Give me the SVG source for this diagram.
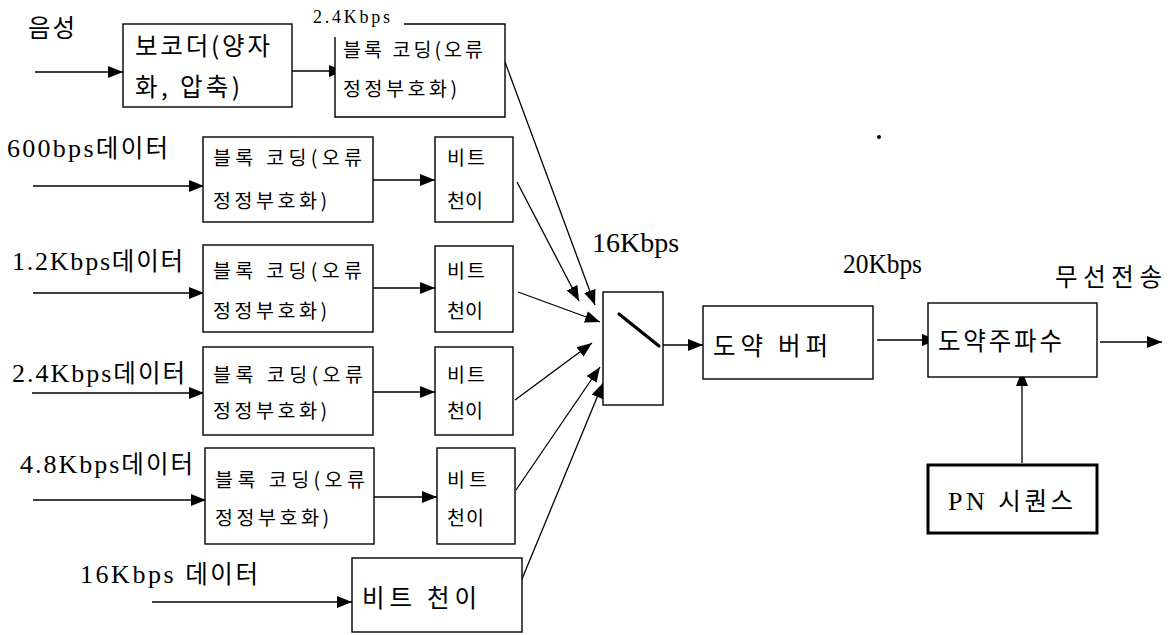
<svg xmlns="http://www.w3.org/2000/svg" width="1171" height="635" viewBox="0 0 1171 635">
  <style>
    .box { fill: #fff; stroke: #000; stroke-width: 1.4; }
    .thick { fill: #fff; stroke: #000; stroke-width: 3; }
    .wire { fill: none; stroke: #000; stroke-width: 1.3; marker-end: url(#ah); }
    text { fill: #000; }
    .lat { font-family: "Liberation Serif", "Times New Roman", serif; }
    .kr { font-family: "Noto Sans CJK KR", "Noto Sans", sans-serif; }
    .md { font-size: 24.5px; }
    .sm { font-size: 19.5px; }
    .tiny { font-size: 18px; }
    .rate { font-size: 28px; }
    .lab { font-size: 26px; }
  </style>
  <defs>
    <marker id="ah" viewBox="0 0 15 12" refX="15" refY="6" markerWidth="15" markerHeight="12" orient="auto" markerUnits="userSpaceOnUse">
      <path d="M0,0 L15,6 L0,12 z" fill="#000"/>
    </marker>
  </defs>

  <rect width="1171" height="635" fill="#fff"/>

  <!-- connectors -->
  <g id="connectors">
    <line class="wire" x1="35" y1="72" x2="123" y2="72"/>
    <line class="wire" x1="292" y1="71" x2="344" y2="71"/>
    <line class="wire" x1="33" y1="186" x2="204" y2="186"/>
    <line class="wire" x1="373" y1="180" x2="435" y2="180"/>
    <line class="wire" x1="33" y1="293" x2="204" y2="293"/>
    <line class="wire" x1="373" y1="288" x2="435" y2="288"/>
    <line class="wire" x1="32" y1="393" x2="204" y2="393"/>
    <line class="wire" x1="373" y1="392" x2="435" y2="392"/>
    <line class="wire" x1="33" y1="500" x2="206" y2="500"/>
    <line class="wire" x1="374" y1="497" x2="437" y2="497"/>
    <line class="wire" x1="152" y1="602" x2="352" y2="602"/>
    <line class="wire" x1="505" y1="62" x2="595" y2="305"/>
    <line class="wire" x1="517" y1="182" x2="579" y2="301"/>
    <line class="wire" x1="518" y1="292" x2="600" y2="322"/>
    <line class="wire" x1="515" y1="400" x2="592" y2="343"/>
    <line class="wire" x1="516" y1="490" x2="600" y2="367"/>
    <line class="wire" x1="522" y1="579" x2="603" y2="383"/>
    <line class="wire" x1="663" y1="345" x2="703" y2="345"/>
    <line class="wire" x1="877" y1="340" x2="937" y2="340"/>
    <line class="wire" x1="1100" y1="342" x2="1162" y2="342"/>
    <line class="wire" x1="1022" y1="463" x2="1022" y2="371"/>
  </g>

  <!-- input labels -->
  <g id="inputs">
    <text class="kr md" x="28" y="37" textLength="47" lengthAdjust="spacing">음성</text>
    <text x="7" y="157" textLength="161" lengthAdjust="spacing"><tspan class="lat lab">600bps</tspan><tspan class="kr md">데이터</tspan></text>
    <text x="12" y="270" textLength="171" lengthAdjust="spacing"><tspan class="lat lab">1.2Kbps</tspan><tspan class="kr md">데이터</tspan></text>
    <text x="12" y="382" textLength="173" lengthAdjust="spacing"><tspan class="lat lab">2.4Kbps</tspan><tspan class="kr md">데이터</tspan></text>
    <text x="20" y="473" textLength="173" lengthAdjust="spacing"><tspan class="lat lab">4.8Kbps</tspan><tspan class="kr md">데이터</tspan></text>
    <text x="80" y="583" textLength="178" lengthAdjust="spacing"><tspan class="lat lab">16Kbps  </tspan><tspan class="kr md">데이터</tspan></text>
  </g>

  <!-- voice path -->
  <g id="vocoder">
    <rect class="box" x="123" y="24" width="169" height="83"/>
    <text class="kr md" x="135" y="55" textLength="135" lengthAdjust="spacing">보코더(양자</text>
    <text class="kr md" x="135" y="96" textLength="105" lengthAdjust="spacing">화, 압축)</text>
  </g>
  <g id="voice-coding">
    <path class="box" d="M404,24 H505 V117 H335 V37"/>
    <text class="lat tiny" x="313" y="23" textLength="77" lengthAdjust="spacing">2.4Kbps</text>
    <text class="kr sm" x="343" y="57" textLength="140" lengthAdjust="spacing">블록  코딩(오류</text>
    <text class="kr sm" x="343" y="96" textLength="114" lengthAdjust="spacing">정정부호화)</text>
  </g>

  <!-- 600bps -->
  <g id="coding-600">
    <rect class="box" x="203" y="137" width="170" height="85"/>
    <text class="kr sm" x="213" y="165" textLength="149" lengthAdjust="spacing">블록  코딩(오류</text>
    <text class="kr sm" x="213" y="208" textLength="114" lengthAdjust="spacing">정정부호화)</text>
  </g>
  <g id="interleave-600">
    <rect class="box" x="435" y="137" width="78" height="85"/>
    <text class="kr sm" x="447" y="165" textLength="38" lengthAdjust="spacing">비트</text>
    <text class="kr sm" x="447" y="208" textLength="36" lengthAdjust="spacing">천이</text>
  </g>

  <!-- 1.2Kbps -->
  <g id="coding-1200">
    <rect class="box" x="203" y="245" width="170" height="87"/>
    <text class="kr sm" x="213" y="278" textLength="149" lengthAdjust="spacing">블록  코딩(오류</text>
    <text class="kr sm" x="213" y="318" textLength="114" lengthAdjust="spacing">정정부호화)</text>
  </g>
  <g id="interleave-1200">
    <rect class="box" x="435" y="246" width="78" height="86"/>
    <text class="kr sm" x="447" y="278" textLength="38" lengthAdjust="spacing">비트</text>
    <text class="kr sm" x="447" y="318" textLength="36" lengthAdjust="spacing">천이</text>
  </g>

  <!-- 2.4Kbps -->
  <g id="coding-2400">
    <rect class="box" x="203" y="347" width="170" height="88"/>
    <text class="kr sm" x="213" y="382" textLength="150" lengthAdjust="spacing">블록  코딩(오류</text>
    <text class="kr sm" x="213" y="418" textLength="114" lengthAdjust="spacing">정정부호화)</text>
  </g>
  <g id="interleave-2400">
    <rect class="box" x="435" y="347" width="78" height="88"/>
    <text class="kr sm" x="447" y="382" textLength="38" lengthAdjust="spacing">비트</text>
    <text class="kr sm" x="447" y="418" textLength="36" lengthAdjust="spacing">천이</text>
  </g>

  <!-- 4.8Kbps -->
  <g id="coding-4800">
    <rect class="box" x="205" y="448" width="169" height="96"/>
    <text class="kr sm" x="215" y="487" textLength="150" lengthAdjust="spacing">블록  코딩(오류</text>
    <text class="kr sm" x="215" y="525" textLength="114" lengthAdjust="spacing">정정부호화)</text>
  </g>
  <g id="interleave-4800">
    <rect class="box" x="437" y="448" width="78" height="96"/>
    <text class="kr sm" x="447" y="487" textLength="40" lengthAdjust="spacing">비트</text>
    <text class="kr sm" x="447" y="525" textLength="37" lengthAdjust="spacing">천이</text>
  </g>

  <!-- 16Kbps -->
  <g id="interleave-16k">
    <rect class="box" x="352" y="558" width="170" height="74"/>
    <text class="kr md" x="362" y="607" textLength="115" lengthAdjust="spacing">비트 천이</text>
  </g>

  <!-- multiplexer switch -->
  <g id="switch">
    <rect class="box" x="603" y="292" width="60" height="113"/>
    <line x1="619" y1="314" x2="659" y2="346" stroke="#000" stroke-width="3.2" stroke-linecap="round"/>
    <text class="lat rate" x="592" y="252">16Kbps</text>
  </g>

  <!-- hopping buffer -->
  <g id="hop-buffer">
    <rect class="box" x="703" y="306" width="170" height="73"/>
    <text class="kr md" x="713" y="355" textLength="115" lengthAdjust="spacing">도약 버퍼</text>
    <text class="lat rate" x="843" y="273" textLength="79" lengthAdjust="spacingAndGlyphs">20Kbps</text>
  </g>

  <!-- frequency hopper -->
  <g id="hop-frequency">
    <rect class="box" x="928" y="303" width="169" height="74"/>
    <text class="kr md" x="938" y="350" textLength="124" lengthAdjust="spacing">도약주파수</text>
    <text class="kr md" x="1055" y="286" textLength="107" lengthAdjust="spacing">무선전송</text>
  </g>

  <!-- PN sequence -->
  <g id="pn-sequence">
    <rect class="thick" x="928" y="465" width="169" height="68"/>
    <text x="948" y="510" textLength="125" lengthAdjust="spacing"><tspan class="lat lab">PN </tspan><tspan class="kr md">시퀀스</tspan></text>
  </g>

  <circle cx="879" cy="137" r="2" fill="#000"/>
</svg>
